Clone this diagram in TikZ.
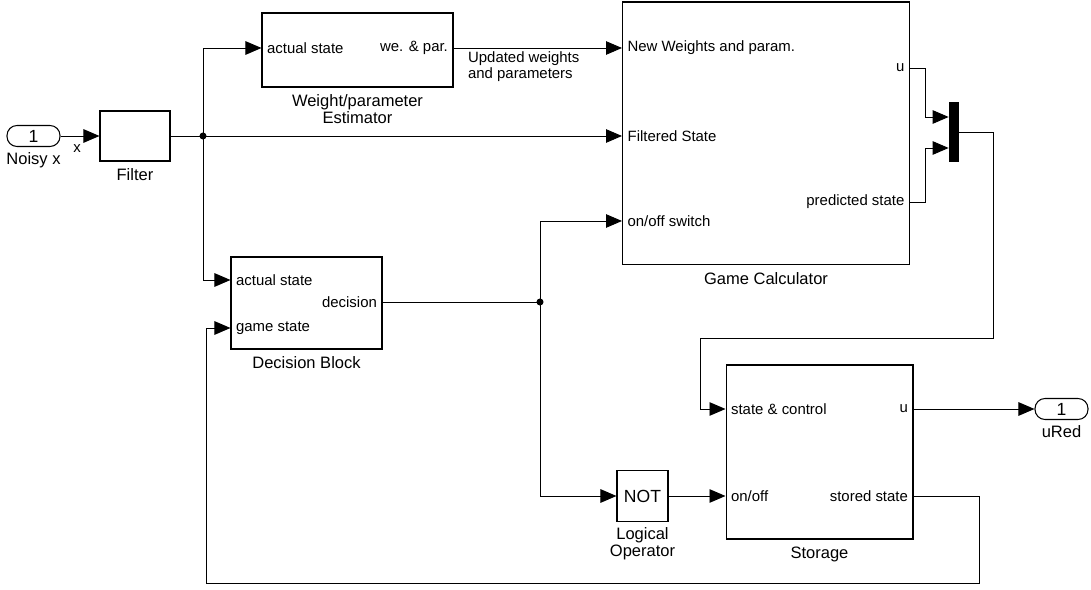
\documentclass[tikz,border=0pt]{standalone}
\usepackage{fontspec}
\setmainfont{Liberation Sans}
\usetikzlibrary{arrows.meta,positioning,calc}
\newcommand\ptsz{\fontsize{8.5pt}{9pt}\selectfont}
\newcommand\nmsz{\fontsize{9.4pt}{9.6pt}\selectfont}
\newcommand\notsz{\fontsize{10pt}{11pt}\selectfont}
\tikzset{
  blk/.style={draw=black,fill=white,line width=0.6pt,inner sep=0pt},
  io/.style={draw=black,line width=0.6pt,rounded corners=0.2cm,minimum width=1.06cm,minimum height=0.42cm,inner sep=0pt,font=\notsz},
  prtl/.style={anchor=west,inner sep=0pt,inner xsep=3pt,font=\ptsz},
  prtr/.style={anchor=east,inner sep=0pt,inner xsep=3pt,font=\ptsz},
  lbl/.style={font=\ptsz,align=center,inner sep=1pt},
  nm/.style={font=\nmsz,align=center,inner sep=1pt},
  wire/.style={line width=0.55pt,draw=black},
  sig/.style={-{Triangle[length=0.32cm,width=0.27cm]},line width=0.55pt,draw=black},
  dot/.style={circle,fill=black,inner sep=0pt,minimum size=4pt},
}
\begin{document}
\begin{tikzpicture}[x=0.02cm,y=-0.02cm]
  \useasboundingbox (0,0) rectangle (1091,590);
  % inport and filter
  \node[io] (inx) at (33.5,136) {1};
  \node[nm,below=2pt of inx] (inxl) {Noisy x};
  \node[blk,minimum width=1.4cm,minimum height=1cm] (flt) at (135,136) {};
  \node[nm,below=3pt of flt] (fltl) {Filter};
  \node[lbl] (xl) at (77,149) {x};
  % weight estimator
  \node[blk,minimum width=3.82cm,minimum height=1.48cm] (est) at (357.5,50) {};
  \node[prtl] (estA) at (est.west |- 0,48) {actual state};
  \node[prtr] (estW) at (est.east |- 0,48) {we. \& par.};
  \node[nm,below=3pt of est] (estl) {Weight/parameter\\Estimator};
  \node[lbl,anchor=north west,align=left] (updl) at (466,50) {Updated weights\\and parameters};
  % game calculator
  \node[blk,minimum width=5.74cm,minimum height=5.26cm] (gc) at (766,133.5) {};
  \node[prtl] (gcN) at (gc.west |- 0,48) {New Weights and param.};
  \node[prtl] (gcF) at (gc.west |- 0,136) {Filtered State};
  \node[prtl] (gcS) at (gc.west |- 0,221) {on/off switch};
  \node[prtr] (gcU) at (gc.east |- 0,68) {u};
  \node[prtr] (gcP) at (gc.east |- 0,202) {predicted state};
  \node[nm,below=3pt of gc] (gcl) {Game Calculator};
  \node[fill=black,minimum width=0.2cm,minimum height=1.2cm,inner sep=0pt] (mux) at (954,132) {};
  % decision block
  \node[blk,minimum width=3.02cm,minimum height=1.84cm] (dec) at (306.5,303) {};
  \node[prtl] (decA) at (dec.west |- 0,280) {actual state};
  \node[prtr] (decD) at (dec.east |- 0,302) {decision};
  \node[prtl] (decG) at (dec.west |- 0,328) {game state};
  \node[nm,below=3pt of dec] (decl) {Decision Block};
  % logical operator and storage
  \node[blk,minimum size=1.02cm,font=\notsz] (lop) at (642.5,496) {NOT};
  \node[nm,below=2pt of lop] (lopl) {Logical\\Operator};
  \node[blk,minimum width=3.74cm,minimum height=3.48cm] (sto) at (819.5,452) {};
  \node[prtl] (stoC) at (sto.west |- 0,409) {state \& control};
  \node[prtr] (stoU) at (sto.east |- 0,409) {u};
  \node[prtl] (stoO) at (sto.west |- 0,496) {on/off};
  \node[prtr] (stoS) at (sto.east |- 0,496) {stored state};
  \node[nm,below=3pt of sto] (stol) {Storage};
  \node[io] (outu) at (1061.5,409) {1};
  \node[nm,below=2pt of outu] (outl) {uRed};
  % signals
  \coordinate (j1) at (203,136);
  \coordinate (j2) at (540,302);
  \draw[sig] (inx) -- (flt);
  \draw[wire] (flt) -- (j1);
  \draw[sig] (j1) -- (gcF.west);
  \draw[sig] (j1) |- (estA.west);
  \draw[sig] (j1) |- (decA.west);
  \draw[sig] (estW.east) -- (gcN.west);
  \draw[wire] (decD.east) -- (j2);
  \draw[sig] (j2) |- (gcS.west);
  \draw[sig] (j2) |- (lop.west);
  \draw[sig] (lop) -- (stoO.west);
  \draw[sig] (gcU.east) -- (925,68) |- (mux.west |- 0,117);
  \draw[sig] (gcP.east) -- (925,202) |- (mux.west |- 0,148);
  \draw[sig] (mux) -- (993,132) -- (993,338) -- (700,338) |- (stoC.west);
  \draw[sig] (stoU.east) -- (outu);
  \draw[sig] (stoS.east) -- (979,496) -- (979,583) -- (206,583) |- (decG.west);
  \node[dot] at (j1) {};
  \node[dot] at (j2) {};
\end{tikzpicture}
\end{document}
